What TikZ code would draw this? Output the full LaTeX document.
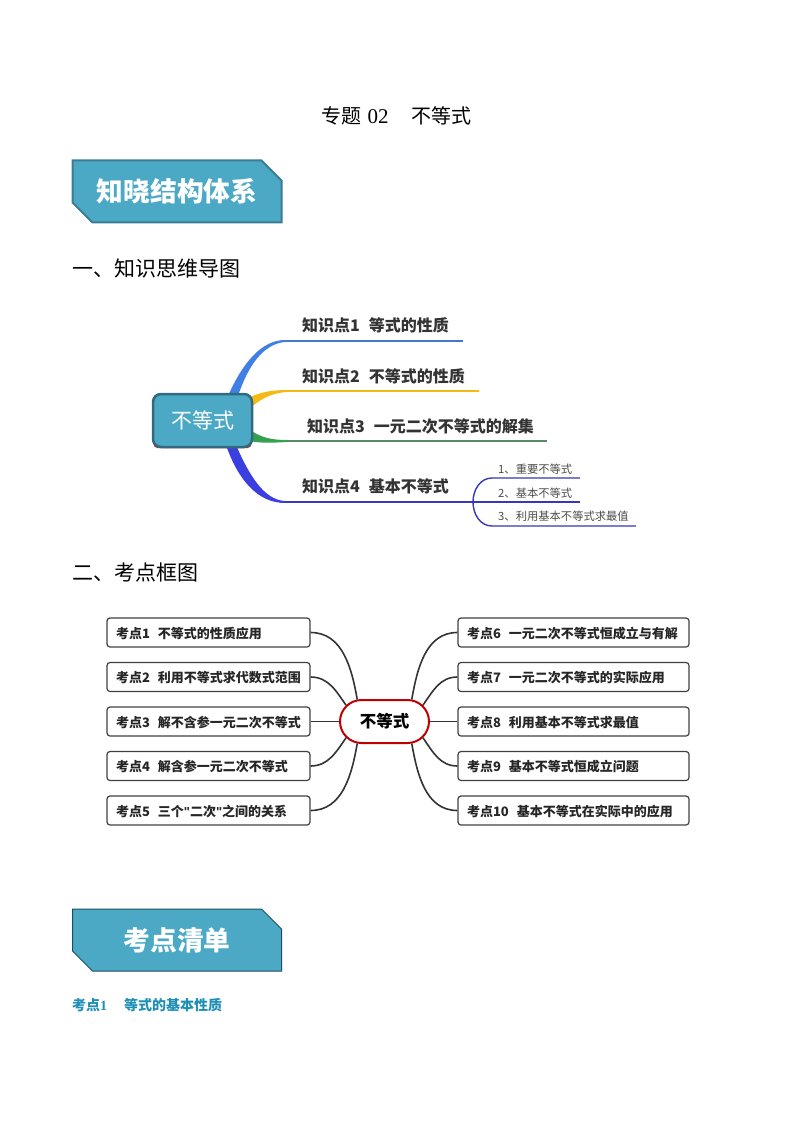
\documentclass[tikz,border=0pt]{standalone}
\usepackage{fontspec}
\setmainfont{Noto Sans CJK SC}
\newfontfamily\latinserif{Liberation Serif}
\newfontfamily\latinsans{Liberation Sans}
\usetikzlibrary{shapes.misc}

\definecolor{headfill}{HTML}{4BA9C6}
\definecolor{headline}{HTML}{3A7C94}
\definecolor{headdark}{HTML}{1B4F66}
\definecolor{mapblue}{HTML}{3F7FE6}
\definecolor{mapyellow}{HTML}{F4B912}
\definecolor{mapgreen}{HTML}{35A052}
\definecolor{mapindigo}{HTML}{3B3FE0}
\definecolor{lineblue}{HTML}{4478D0}
\definecolor{linegreen}{HTML}{5A8A64}
\definecolor{lineindigo}{HTML}{3538B8}
\definecolor{keyred}{HTML}{C00000}
\definecolor{sectblue}{HTML}{1F8FB5}

\begin{document}
\begin{tikzpicture}[x=1pt, y=-1pt, node distance={44.5pt},
    head/.style={chamfered rectangle, chamfered rectangle corners={north east, south west},
        chamfered rectangle xsep=10pt, chamfered rectangle ysep=10pt, draw=headline, line width=2pt,
        fill=headfill, minimum width=209pt, minimum height=62pt, inner sep=0pt, text=white,
        font=\fontsize{26.7}{30}\selectfont\bfseries},
    sect/.style={anchor=west, inner sep=0pt, font=\fontsize{21}{25}\selectfont},
    branch/.style={anchor=west, inner sep=0pt, text=black!80, font=\fontsize{16}{19}\selectfont\bfseries},
    leaf/.style={anchor=west, inner sep=0pt, text=black!70, font=\fontsize{11.3}{13}\selectfont},
    kbox/.style={draw=black!75, line width=1.2pt, rounded corners=3pt, minimum height=29pt, inner ysep=0pt,
        inner xsep=9pt, text width=#1, text height=13pt, text depth=1.2pt, align=left, text=black!85,
        font=\fontsize{13}{15}\selectfont\bfseries},
    wire/.style={draw=black!80, line width=1.6pt}]
    \useasboundingbox (0,0) rectangle (794,1123);

    \node (title) at (396.5,116) {\fontsize{20}{24}\selectfont 专题\hspace{6pt}{\latinserif\fontsize{21}{24}\selectfont 02}\hspace{23pt}不等式};
    \node[head] (h1) at (177,191.5) {\raisebox{-1pt}{知晓结构体系}};
    \node[sect] (s1) at (72,269) {一、知识思维导图};

    \coordinate (a1) at (285,341);
    \coordinate (a2) at (287,391);
    \coordinate (a3) at (287,441);
    \coordinate (a4) at (285,502);
    \coordinate (e1) at (463,341);
    \coordinate (e2) at (479,391);
    \coordinate (e3) at (547,441);
    \coordinate (e4) at (473,502);
    \coordinate (b1) at (492,478);
    \coordinate (b3) at (492,526);
    \coordinate (f1) at (580,478);
    \coordinate (f2) at (580,502);
    \coordinate (f3) at (636,526);

    % tapered roots of the branches
    \fill[mapblue] (228,396) .. controls (243,362) and (262,340) .. (285,340) -- (285,342) .. controls (263,344) and (248,366) .. (238,396) -- cycle;
    \fill[mapyellow] (250,397) .. controls (262,392) and (272,390) .. (287,390) -- (287,392) .. controls (272,393) and (262,398) .. (250,408) -- cycle;
    \fill[mapgreen] (250,430) .. controls (262,438) and (272,440) .. (287,440) -- (287,442) .. controls (270,443) and (258,443) .. (250,441) -- cycle;
    \fill[mapindigo] (226,445) .. controls (238,480) and (258,503) .. (285,503) -- (285,501) .. controls (264,500) and (249,475) .. (236,445) -- cycle;

    \draw[lineblue, line width=1.4pt] (a1) -- (e1);
    \draw[mapyellow, line width=1.4pt] (a2) -- (e2);
    \draw[linegreen, line width=1.4pt] (a3) -- (e3);
    \draw[lineindigo, line width=1.4pt] (a4) -- (f2);
    \draw[lineindigo, line width=1.4pt] (e4) to [out=90, in=180] (b1) -- (f1);
    \draw[lineindigo, line width=1.4pt] (e4) to [out=270, in=180] (b3) -- (f3);

    \fill[keyred!80!orange, rounded corners=4pt] (153.5,420) rectangle (251.5,448);
    \node[draw=headline!85!black, line width=2.5pt, fill=headfill, rounded corners=8pt, minimum width=99pt, minimum height=53pt,
        inner sep=0pt, text=white, font=\fontsize{21}{25}\selectfont] (m) at (202.5,420.5) {\raisebox{-2pt}{不等式}};

    \node[branch] (k1) at (302,325.5) {知识点1\hspace{9pt}等式的性质};
    \node[branch] (k2) at (302,376.5) {知识点2\hspace{9pt}不等式的性质};
    \node[branch] (k3) at (307,426.5) {知识点3\hspace{9pt}一元二次不等式的解集};
    \node[branch] (k4) at (302,486.5) {知识点4\hspace{9pt}基本不等式};
    \node[leaf] (l1) at (498,469) {1、重要不等式};
    \node[leaf] (l2) at (498,493) {2、基本不等式};
    \node[leaf] (l3) at (498,516) {3、利用基本不等式求最值};

    \node[sect] (s2) at (72,572) {二、考点框图};

    \node[kbox=185pt] (1) at (208.5,632.5) {考点1\hspace{8pt}不等式的性质应用};
    \node[kbox=185pt] (2) [below of=1] {考点2\hspace{8pt}利用不等式求代数式范围};
    \node[kbox=185pt] (3) [below of=2] {考点3\hspace{8pt}解不含参一元二次不等式};
    \node[kbox=185pt] (4) [below of=3] {考点4\hspace{8pt}解含参一元二次不等式};
    \node[kbox=185pt] (5) [below of=4] {考点5\hspace{8pt}三个{\latinsans "}二次{\latinsans "}之间的关系};
    \node[kbox=213pt] (6) at (573.5,632.5) {考点6\hspace{8pt}一元二次不等式恒成立与有解};
    \node[kbox=213pt] (7) [below of=6] {考点7\hspace{8pt}一元二次不等式的实际应用};
    \node[kbox=213pt] (8) [below of=7] {考点8\hspace{8pt}利用基本不等式求最值};
    \node[kbox=213pt] (9) [below of=8] {考点9\hspace{8pt}基本不等式恒成立问题};
    \node[kbox=213pt] (10) [below of=9] {考点10\hspace{8pt}基本不等式在实际中的应用};

    \node[rounded rectangle, draw=keyred, line width=2pt, minimum width=89pt, minimum height=43pt, inner sep=0pt,
        text=black, font=\fontsize{16.5}{20}\selectfont\bfseries] (c) at (384.5,721.5) {不等式};

    \draw[wire] (1.east) to [out=0, in=100] (c.141);
    \draw[wire] (2.east) to [out=0, in=125] (c.157);
    \draw[wire] (3.east) -- (c.west);
    \draw[wire] (4.east) to [out=0, in=235] (c.203);
    \draw[wire] (5.east) to [out=0, in=260] (c.219);
    \draw[wire] (6.west) to [out=180, in=80] (c.39);
    \draw[wire] (7.west) to [out=180, in=55] (c.23);
    \draw[wire] (8.west) -- (c.east);
    \draw[wire] (9.west) to [out=180, in=305] (c.337);
    \draw[wire] (10.west) to [out=180, in=280] (c.321);

    \node[head, draw=headdark, line width=1pt] (h2) at (177,940) {考点清单};
    \node[anchor=west, inner sep=0pt, text=sectblue, font=\fontsize{14}{16}\selectfont\bfseries] (s3) at (72,1005)
        {考点{\latinserif 1}\hspace{17pt}等式的基本性质};
\end{tikzpicture}
\end{document}
